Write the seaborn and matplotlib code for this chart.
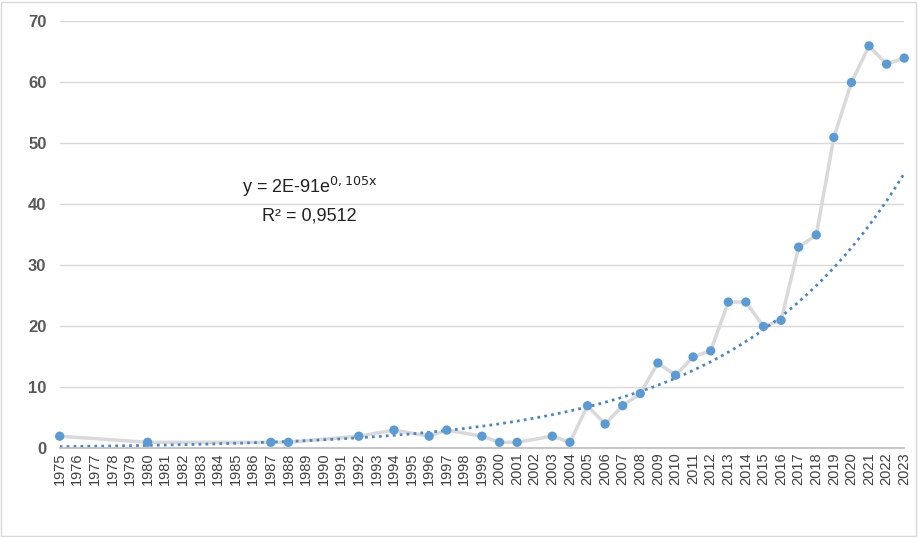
import numpy as np
import matplotlib
matplotlib.use("Agg")
import matplotlib.pyplot as plt
import seaborn as sns
import pandas as pd

years = [1975,1980,1987,1988,1992,1994,1996,1997,1999,2000,2001,2003,2004,2005,2006,2007,2008,
         2009,2010,2011,2012,2013,2014,2015,2016,2017,2018,2019,2020,2021,2022,2023]
values = [2,1,1,1,2,3,2,3,2,1,1,2,1,7,4,7,9,14,12,15,16,24,24,20,21,33,35,51,60,66,63,64]
tick_years = list(range(1975, 2024))

sns.set_theme(style="white")
plt.rcParams['font.family'] = ['Liberation Sans', 'DejaVu Sans']
fig = plt.figure(figsize=(9.18, 5.37), dpi=100)
ax = fig.add_axes([0.065, 0.165, 0.92, 0.795])
df = pd.DataFrame({"year": years, "value": values})

b, a = np.polyfit(np.array(years, float), np.log(values), 1)
xs = np.linspace(1975, 2023, 300)
ax.plot(xs, np.exp(a + b*xs), ls=(0, (1, 1.5)), color="#4a86c8", lw=2, zorder=2)

sns.lineplot(data=df, x="year", y="value", ax=ax, color="#d9d9d9", lw=2.5, zorder=1)
sns.scatterplot(data=df, x="year", y="value", ax=ax, color="#5b9bd5", s=45,
                edgecolor="none", zorder=3, clip_on=False)

ax.set_xlim(1975, 2023)
ax.set_ylim(0, 70)
ax.set_yticks(range(0, 71, 10))
ax.set_xticks(tick_years)
ax.set_xticklabels([str(y) for y in tick_years], rotation=90, fontsize=10.5, color="#404040")
for lbl in ax.get_yticklabels():
    lbl.set_fontweight("bold")
ax.tick_params(axis='y', labelsize=12, labelcolor="#595959")
ax.tick_params(axis='x', length=0, pad=3)
ax.grid(axis='y', color="#d9d9d9", lw=1)
ax.set_xlabel(""); ax.set_ylabel("")
for s in ["top", "right", "left"]:
    ax.spines[s].set_visible(False)
ax.spines["bottom"].set_color("#bfbfbf")

ax.text(1989.2, 41.8, r"y = 2E-91e$^{\mathrm{0,105x}}$", ha="center", fontsize=13, color="#222222")
ax.text(1989.2, 37.3, "R² = 0,9512", ha="center", fontsize=13, color="#222222")

fig.patches.append(plt.Rectangle((0.001, 0.002), 0.997, 0.995, transform=fig.transFigure,
                                 fill=False, edgecolor="#d9d9d9", lw=1))
fig.savefig("out.png", dpi=100)
